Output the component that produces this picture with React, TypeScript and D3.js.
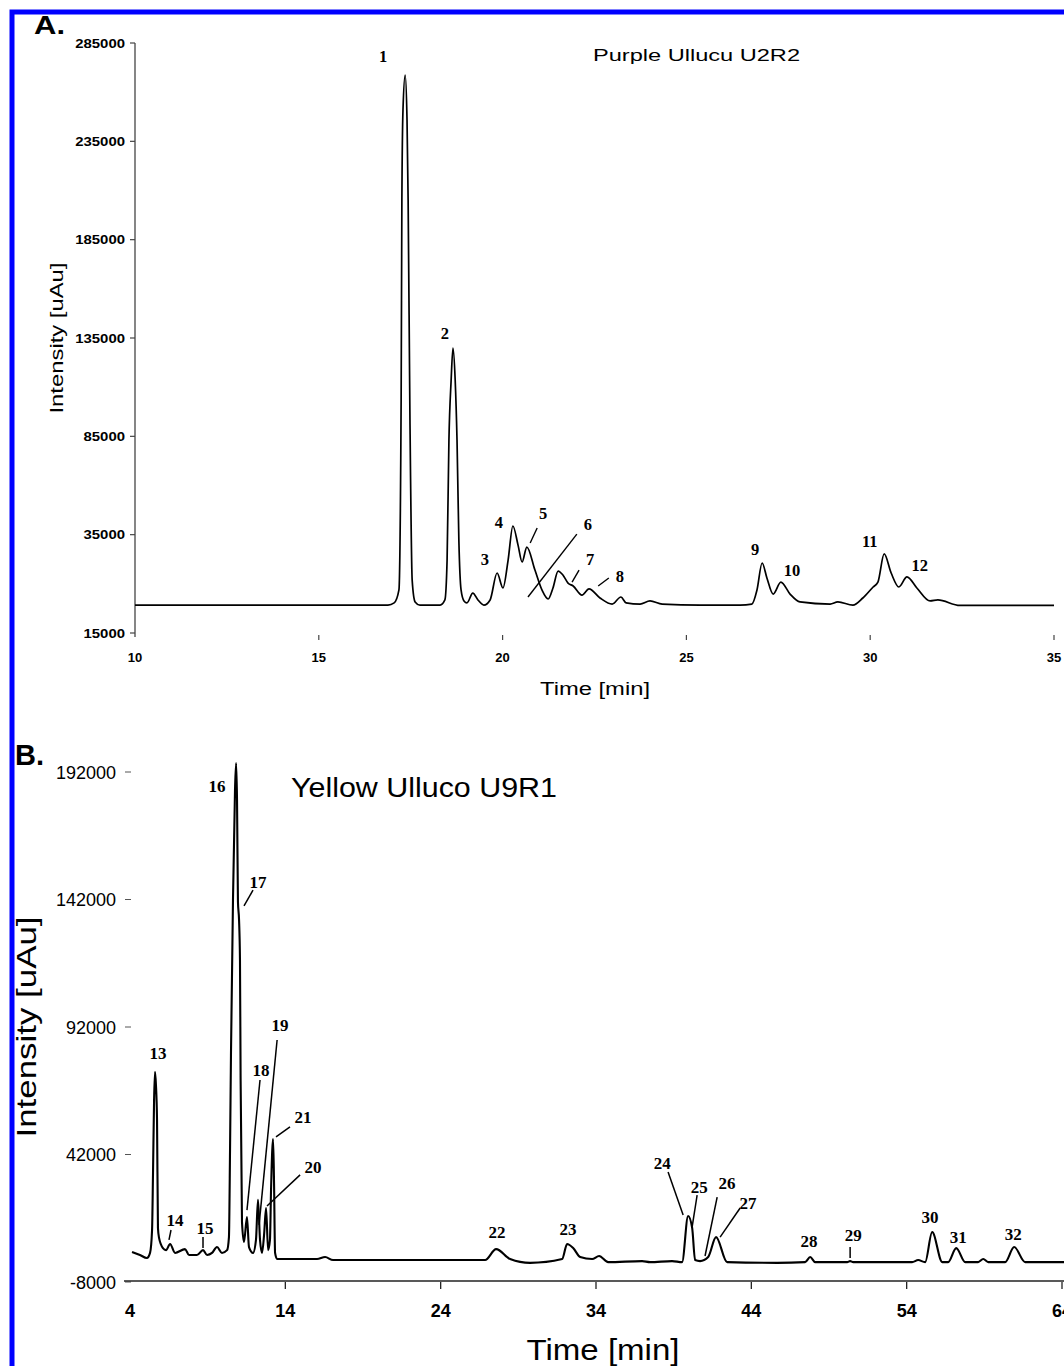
import React from "react";
import * as d3 from "d3";

const W = 1064;
const H = 1366;

// ---------- Panel A : Purple Ullucu U2R2 ----------
const aTrace: [number, number][] = [
  [10, -800], [16.88, -800], [17.05, 300], [17.18, 6900], [17.24, 103500], [17.26, 205200],
  [17.29, 250900], [17.35, 268700], [17.40, 245800], [17.43, 205200], [17.48, 93300],
  [17.54, 11900], [17.62, 800], [17.75, -800], [18.30, -800], [18.43, 1800], [18.49, 22100],
  [18.54, 83100], [18.60, 113600], [18.65, 129900], [18.71, 113600], [18.76, 83100],
  [18.81, 32300], [18.87, 6900], [18.95, 1300], [19.03, 300], [19.19, 5300], [19.33, 1800],
  [19.49, -800], [19.66, 1800], [19.85, 15500], [20.01, 7900], [20.15, 22100], [20.28, 39400],
  [20.42, 29700], [20.53, 21100], [20.66, 28700], [20.88, 17000], [21.07, 6900], [21.24, 2300],
  [21.37, 7900], [21.51, 16500], [21.64, 14500], [21.78, 10400], [21.92, 8900], [22.16, 4300],
  [22.35, 7400], [22.65, 2800], [22.98, -300], [23.22, 3300], [23.36, 300], [23.74, -300],
  [24.01, 1300], [24.34, -300], [25.37, -800], [26.46, -800], [26.78, -300], [26.92, 6900],
  [27.06, 20600], [27.19, 13000], [27.36, 4800], [27.57, 10900], [27.82, 4800], [28.09, 800],
  [28.91, -300], [29.12, 800], [29.53, -800], [29.80, 2800], [30.08, 8400], [30.21, 10900],
  [30.38, 25200], [30.57, 15500], [30.78, 8400], [31.00, 13500], [31.27, 7900], [31.63, 1300],
  [31.84, 1800], [32.44, -1000], [35.0, -1000],
];
const aYTicks = [285000, 235000, 185000, 135000, 85000, 35000, -15000];
const aYTickLabels = ["285000", "235000", "185000", "135000", "85000", "35000", "15000"];
const aXTicks = [10, 15, 20, 25, 30, 35];
const aPeakIds = ["1", "2", "3", "4", "5", "6", "7", "8", "9", "10", "11", "12"];
const aPeakLabelTime = [16.75, 18.43, 19.52, 19.90, 21.10, 22.32, 22.38, 23.19, 26.87, 27.87, 29.99, 31.35];
const aPeakLabelValue = [277900, 137500, 22600, 41400, 46000, 40400, 22600, 13500, 27700, 17000, 31300, 19100];
// leader lines: [t1, v1, t2, v2]
const aLeaders: [number, number, number, number][] = [
  [20.94, 38400, 20.75, 30800],
  [22.02, 35300, 20.69, 3300],
  [22.08, 17000, 21.89, 10900],
  [22.89, 13000, 22.60, 8900],
];

// ---------- Panel B : Yellow Ulluco U9R1 ----------
const bTrace: [number, number][] = [
  [4.13, 3800], [4.64, 2600], [5.09, 1400], [5.29, 3400], [5.42, 12400], [5.48, 34000],
  [5.55, 63400], [5.61, 74400], [5.67, 69300], [5.74, 55500], [5.80, 13200], [5.87, 9300],
  [6.12, 5300], [6.32, 4500], [6.58, 6900], [6.90, 3400], [7.54, 4900], [7.80, 2600],
  [8.31, 2600], [8.70, 4500], [8.96, 2600], [9.28, 3400], [9.60, 5700], [9.92, 3400],
  [10.25, 4500], [10.37, 9600], [10.44, 43800], [10.50, 81000], [10.63, 141800], [10.76, 184900],
  [10.83, 195500], [10.89, 181000], [10.95, 141000], [11.02, 134000], [11.08, 118300],
  [11.12, 72000], [11.21, 15500], [11.34, 7700], [11.53, 17500], [11.66, 5700], [11.92, 3400],
  [12.11, 8500], [12.24, 24200], [12.37, 8500], [12.50, 3400], [12.63, 10400], [12.76, 21000],
  [12.89, 4500], [13.01, 8500], [13.08, 28100], [13.21, 48100], [13.27, 32000], [13.34, 3400],
  [13.47, 1000], [16.04, 1000], [16.56, 1800], [17.07, 600], [26.86, 600], [27.57, 4900],
  [28.47, 1000], [29.76, -500], [31.82, 1000], [32.14, 6900], [32.53, 5300], [32.98, 1800],
  [33.75, 1000], [34.20, 2200], [34.78, -200], [36.97, 200], [37.48, -200], [38.90, 200],
  [39.54, -200], [39.93, 17900], [40.19, 13200], [40.38, 600], [40.70, 200], [41.22, 1800],
  [41.73, 9600], [42.44, -200], [45.66, -500], [47.46, -200], [47.79, 1800], [48.11, -200],
  [50.17, -200], [50.36, 200], [50.56, -200], [54.35, -200], [54.74, 600], [55.19, -200],
  [55.64, 11600], [56.29, -200], [56.67, -200], [57.19, 5300], [57.77, -200], [58.60, -200],
  [58.93, 1000], [59.25, -200], [60.34, -200], [60.92, 5700], [61.63, -200], [64.14, -200],
];
const bYTicks = [192000, 142000, 92000, 42000, -8000];
const bXTicks = [4, 14, 24, 34, 44, 54, 64];
const bPeakIds = ["13", "14", "15", "16", "17", "18", "19", "20", "21", "22", "23", "24", "25", "26", "27", "28", "29", "30", "31", "32"];
const bPeakLabelTime = [5.80, 6.90, 8.83, 9.60, 12.24, 12.44, 13.66, 15.78, 15.14, 27.63, 32.20, 38.26, 40.64, 42.44, 43.79, 47.72, 50.56, 55.51, 57.32, 60.86];
const bPeakLabelValue = [81800, 16300, 13200, 186500, 148900, 75100, 92800, 37100, 56700, 11600, 12800, 38700, 29300, 30800, 23000, 8100, 10400, 17500, 9600, 10800];
const bLeaders: [number, number, number, number][] = [
  [6.64, 12400, 6.51, 8500],
  [8.70, 9600, 8.70, 5300],
  [11.92, 145700, 11.34, 139500],
  [12.37, 71200, 11.53, 20200],
  [13.47, 86900, 12.31, 14400],
  [14.30, 52800, 13.40, 48900],
  [14.95, 34000, 12.82, 21800],
  [38.64, 35100, 39.61, 18300],
  [40.51, 26100, 40.19, 13600],
  [41.80, 25300, 41.02, 2200],
  [43.28, 21000, 41.99, 9600],
  [50.36, 5700, 50.36, 1400],
];

const SANS = "'Liberation Sans', Arial, Helvetica, sans-serif";
const SERIF = "'Liberation Serif', 'Times New Roman', serif";

export default function App() {
  const xA = d3.scaleLinear().domain([10, 35]).range([135, 1054]);
  const yA = d3.scaleLinear().domain([-15000, 285000]).range([633, 43]);
  const xB = d3.scaleLinear().domain([4, 64]).range([130, 1062]);
  const yB = d3.scaleLinear().domain([-8000, 192000]).range([1282, 772]);

  const lineA = d3
    .line<[number, number]>()
    .x((d) => xA(d[0]))
    .y((d) => yA(d[1]))
    .curve(d3.curveMonotoneX);
  const lineB = d3
    .line<[number, number]>()
    .x((d) => xB(d[0]))
    .y((d) => yB(d[1]))
    .curve(d3.curveMonotoneX);

  return (
    <div style={{ position: "absolute", left: 0, top: 0 }}>
      <svg width={W} height={H} style={{ display: "block" }} xmlns="http://www.w3.org/2000/svg">
        <rect x={0} y={0} width={W} height={H} fill="#ffffff" />
        <rect x={12} y={12} width={1200} height={1500} fill="none" stroke="#0000ff" strokeWidth={5} />

        {/* ---------------- Panel A ---------------- */}
        <text x={34} y={34} fontFamily={SANS} fontWeight="bold" fontSize={25} textLength={31} lengthAdjust="spacingAndGlyphs" fill="#000">A.</text>
        <text x={593} y={61} fontFamily={SANS} fontSize={16} textLength={207} lengthAdjust="spacingAndGlyphs" fill="#000">
          Purple Ullucu U2R2
        </text>
        {/* y axis */}
        <line x1={xA(10)} x2={xA(10)} y1={yA(285000)} y2={yA(-15000) + 4} stroke="#444" strokeWidth={1.3} />
        {aYTicks.map((t, i) => (
          <g key={"ay" + i}>
            <line x1={xA(10) - 5} x2={xA(10)} y1={yA(t)} y2={yA(t)} stroke="#444" strokeWidth={1.2} />
            <text
              x={xA(10) - 10}
              y={yA(t) + 4.5}
              textAnchor="end"
              fontFamily={SANS}
              fontSize={13}
              fontWeight="bold"
              textLength={aYTickLabels[i].length * 8.3}
              lengthAdjust="spacingAndGlyphs"
              fill="#000"
            >
              {aYTickLabels[i]}
            </text>
          </g>
        ))}
        {/* x ticks */}
        {aXTicks.map((t) => (
          <g key={"ax" + t}>
            {t !== 10 && (
              <line x1={xA(t)} x2={xA(t)} y1={635} y2={640} stroke="#444" strokeWidth={1.2} />
            )}
            <text x={xA(t)} y={662} textAnchor="middle" fontFamily={SANS} fontWeight="bold" fontSize={13} fill="#000">
              {t}
            </text>
          </g>
        ))}
        <text x={595} y={695} textAnchor="middle" fontFamily={SANS} fontSize={18} textLength={110} lengthAdjust="spacingAndGlyphs" fill="#000">
          Time [min]
        </text>
        <text
          transform={`translate(63,338) rotate(-90)`}
          textAnchor="middle"
          fontFamily={SANS}
          fontSize={19}
          textLength={151}
          lengthAdjust="spacingAndGlyphs"
          fill="#000"
        >
          Intensity [uAu]
        </text>
        <path d={lineA(aTrace) || ""} fill="none" stroke="#000" strokeWidth={1.7} strokeLinejoin="round" />
        {aLeaders.map((l, i) => (
          <line key={"al" + i} x1={xA(l[0])} y1={yA(l[1])} x2={xA(l[2])} y2={yA(l[3])} stroke="#000" strokeWidth={1.4} />
        ))}
        {aPeakIds.map((id, i) => (
          <text
            key={"ap" + id}
            x={xA(aPeakLabelTime[i])}
            y={yA(aPeakLabelValue[i]) + 5.5}
            textAnchor="middle"
            fontFamily={SERIF}
            fontWeight="bold"
            fontSize={16.5}
            fill="#000"
          >
            {id}
          </text>
        ))}

        {/* ---------------- Panel B ---------------- */}
        <text x={15} y={765} fontFamily={SANS} fontWeight="bold" fontSize={29} fill="#000">B.</text>
        <text x={291} y={797} fontFamily={SANS} fontSize={27} textLength={266} lengthAdjust="spacingAndGlyphs" fill="#000">
          Yellow Ulluco U9R1
        </text>
        {bYTicks.map((t) => (
          <g key={"by" + t}>
            <line x1={125} x2={131} y1={yB(t)} y2={yB(t)} stroke="#555" strokeWidth={1} />
            <text x={116} y={yB(t) + 6.5} textAnchor="end" fontFamily={SANS} fontSize={18} fill="#000">
              {t}
            </text>
          </g>
        ))}
        <line x1={124} x2={W} y1={yB(-8000) - 1} y2={yB(-8000) - 1} stroke="#222" strokeWidth={1.3} />
        {bXTicks.map((t) => (
          <g key={"bx" + t}>
            {t !== 4 && (
              <line x1={xB(t)} x2={xB(t)} y1={yB(-8000)} y2={yB(-8000) + 7} stroke="#222" strokeWidth={1.3} />
            )}
            <text x={xB(t)} y={1316.5} textAnchor="middle" fontFamily={SANS} fontWeight="bold" fontSize={18} fill="#000">
              {t}
            </text>
          </g>
        ))}
        <text x={603} y={1360} textAnchor="middle" fontFamily={SANS} fontSize={29} textLength={153} lengthAdjust="spacingAndGlyphs" fill="#000">
          Time [min]
        </text>
        <text
          transform={`translate(36,1027) rotate(-90)`}
          textAnchor="middle"
          fontFamily={SANS}
          fontSize={28}
          textLength={221}
          lengthAdjust="spacingAndGlyphs"
          fill="#000"
        >
          Intensity [uAu]
        </text>
        <path d={lineB(bTrace) || ""} fill="none" stroke="#000" strokeWidth={2.1} strokeLinejoin="round" />
        {bLeaders.map((l, i) => (
          <line key={"bl" + i} x1={xB(l[0])} y1={yB(l[1])} x2={xB(l[2])} y2={yB(l[3])} stroke="#000" strokeWidth={1.5} />
        ))}
        {bPeakIds.map((id, i) => (
          <text
            key={"bp" + id}
            x={xB(bPeakLabelTime[i])}
            y={yB(bPeakLabelValue[i]) + 5.8}
            textAnchor="middle"
            fontFamily={SERIF}
            fontWeight="bold"
            fontSize={17}
            fill="#000"
          >
            {id}
          </text>
        ))}
      </svg>
    </div>
  );
}
